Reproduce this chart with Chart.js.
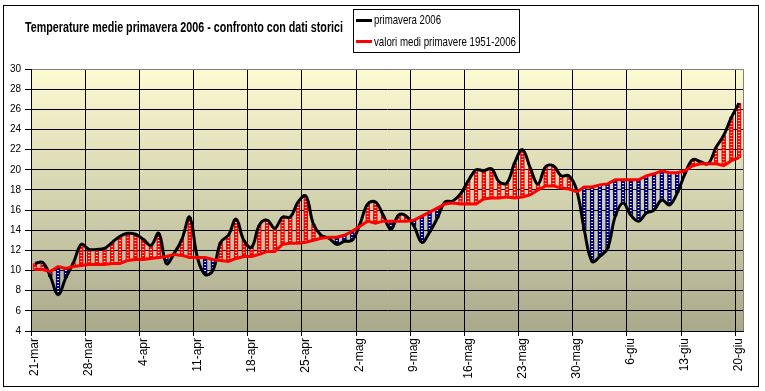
<!DOCTYPE html>
<html>
<head>
<meta charset="utf-8">
<script src="https://cdn.jsdelivr.net/npm/chart.js@4.4.1/dist/chart.umd.min.js"></script>
<style>
body { margin: 0; background: #fff; }
#wrap { position: relative; width: 765px; height: 391px; }
#title, .leg-text { position: absolute; white-space: nowrap; transform-origin: 0 0; }
#title { left: 25px; top: 20px; font: bold 14px "Liberation Sans", Arial, sans-serif; line-height: 15px; }
#legend { position: absolute; left: 353px; top: 9px; width: 165px; height: 42px; border: 1px solid #000; background: #fff; }
.leg-line { position: absolute; left: 2px; width: 16px; height: 3px; }
.leg-text { left: 20px; font: 13px "Liberation Sans", Arial, sans-serif; line-height: 13px; }
</style>
</head>
<body>
<div id="wrap">
  <canvas id="myChart" width="765" height="391"></canvas>
  <div id="title">Temperature medie primavera 2006 - confronto con dati storici</div>
  <div id="legend">
    <div class="leg-line" style="top:9px;background:#000"></div>
    <div class="leg-text" id="leg1" style="top:3px">primavera 2006</div>
    <div class="leg-line" style="top:30px;background:#f00"></div>
    <div class="leg-text" id="leg2" style="top:25px">valori medi primavere 1951-2006</div>
  </div>
</div>
<script>
// daily values, 21-mar ... 20-giu 2006
const temp2006 = [
	10.7, 10.8, 9.4, 7.6, 9.3, 10.8, 12.6, 12.1, 12.1, 12.2,
	12.8, 13.4, 13.7, 13.6, 13.1, 12.5, 13.7, 10.7, 11.7, 13.1,
	15.3, 11.3, 9.6, 10.0, 12.8, 13.5, 15.1, 13.0, 12.3, 14.5,
	15.0, 14.2, 15.3, 15.3, 16.8, 17.4, 14.6, 13.5, 13.2, 12.6,
	12.9, 13.0, 14.6, 16.6, 16.8, 15.5, 14.1, 15.5, 15.4, 14.4,
	12.8, 13.8, 15.2, 16.8, 16.9, 17.6, 18.9, 20.0, 19.9, 20.1,
	18.8, 18.7, 20.7, 22.0, 20.2, 18.6, 20.3, 20.4, 19.4, 19.4,
	18.0, 14.0, 10.9, 11.4, 12.2, 15.4, 16.7, 15.5, 14.9, 15.7,
	16.0, 17.0, 16.5, 17.7, 19.6, 21.0, 20.8, 20.6, 22.2, 23.4,
	25.2, 26.6
];
const tempMean = [
	10.1, 10.1, 9.9, 10.4, 10.2, 10.4, 10.5, 10.6, 10.6, 10.6,
	10.7, 10.7, 11.0, 11.1, 11.1, 11.2, 11.3, 11.4, 11.6, 11.5,
	11.3, 11.3, 11.3, 11.1, 11.0, 10.9, 11.2, 11.4, 11.4, 11.6,
	11.9, 11.9, 12.6, 12.7, 12.7, 12.8, 13.0, 13.2, 13.3, 13.3,
	13.5, 13.9, 14.4, 14.9, 14.7, 14.9, 14.9, 14.9, 14.9, 15.0,
	15.4, 15.8, 16.2, 16.6, 16.7, 16.6, 16.6, 16.6, 17.1, 17.2,
	17.2, 17.3, 17.2, 17.3, 17.5, 18.0, 18.4, 18.4, 18.2, 18.1,
	17.8, 18.3, 18.3, 18.5, 18.6, 19.0, 19.0, 19.0, 19.0, 19.4,
	19.6, 19.9, 19.7, 19.7, 19.9, 20.4, 20.6, 20.6, 20.6, 20.4,
	20.9, 21.2
];
const monthNames = ['gen', 'feb', 'mar', 'apr', 'mag', 'giu', 'lug', 'ago', 'set', 'ott', 'nov', 'dic'];
const yMin = 4, yMax = 30, yStep = 2;

// category labels: one per day
const days = [];
for (let i = 0; i < temp2006.length; i++) {
	const d = new Date(2006, 2, 21 + i);
	days.push(d.getDate() + '-' + monthNames[d.getMonth()]);
}

// fit html texts to the squeezed width of the original
function fitWidth(id, w) {
	const el = document.getElementById(id);
	const r = el.getBoundingClientRect().width;
	el.style.transform = 'scaleX(' + (w / r) + ')';
}
fitWidth('title', 318);
fitWidth('leg1', 67);
fitWidth('leg2', 142);

// dotted fill for the up/down bars
function dotted(color) {
	const c = document.createElement('canvas');
	c.width = 1; c.height = 3;
	const g = c.getContext('2d');
	g.fillStyle = color; g.fillRect(0, 0, 1, 3);
	g.fillStyle = '#fff'; g.fillRect(0, 0, 1, 1);
	return g.createPattern(c, 'repeat');
}
const upFill = dotted('#ff0000');
const downFill = dotted('#000080');

const plotFrame = {
	id: 'plotFrame',
	beforeDraw(chart) {
		const {ctx, chartArea: a} = chart;
		ctx.save();
		ctx.fillStyle = '#fff';
		ctx.fillRect(0, 0, chart.width, chart.height);
		const g = ctx.createLinearGradient(0, a.top, 0, a.bottom);
		g.addColorStop(0, '#fcfbd2');
		g.addColorStop(1, '#a9a98b');
		ctx.fillStyle = g;
		ctx.fillRect(a.left, a.top, a.right - a.left, a.bottom - a.top);
		ctx.restore();
	},
	afterDraw(chart) {
		const {ctx, chartArea: a} = chart;
		ctx.save();
		ctx.lineWidth = 1;
		ctx.strokeStyle = '#808080';
		ctx.beginPath();
		ctx.moveTo(a.left + 1, a.top + 0.5);
		ctx.lineTo(a.right + 0.5, a.top + 0.5);
		ctx.lineTo(a.right + 0.5, a.bottom);
		ctx.stroke();
		ctx.strokeStyle = '#000';
		ctx.strokeRect(3.5, 5.5, 755, 381);
		ctx.restore();
	}
};

const config = {
	type: 'bar',
	data: {
		labels: days,
		datasets: [{
			type: 'line',
			label: 'valori medi primavere 1951-2006',
			data: tempMean,
			borderColor: '#ff0000',
			borderWidth: 3,
			pointRadius: 0,
			tension: 0,
			order: 1
		}, {
			type: 'line',
			label: 'primavera 2006',
			data: temp2006,
			borderColor: '#000000',
			borderWidth: 3,
			pointRadius: 0,
			tension: 0.4,
			order: 2
		}, {
			type: 'bar',
			label: 'scarto',
			data: temp2006.map((v, i) => [tempMean[i], v]),
			backgroundColor: temp2006.map((v, i) => v >= tempMean[i] ? upFill : downFill),
			borderColor: temp2006.map((v, i) => v >= tempMean[i] ? '#ff0000' : '#000080'),
			borderWidth: 1.5,
			borderSkipped: false,
			barThickness: 4,
			order: 3
		}]
	},
	options: {
		responsive: false,
		animation: false,
		layout: { padding: { top: 69, right: 22, left: 0, bottom: 0 } },
		plugins: {
			legend: { display: false },
			tooltip: { enabled: false }
		},
		scales: {
			x: {
				offset: true,
				grid: {
					offset: true,
					color: ctx => ctx.index % 7 === 0 ? '#000' : 'rgba(0,0,0,0)',
					tickLength: 5
				},
				border: { color: '#000' },
				ticks: {
					autoSkip: false,
					minRotation: 90,
					maxRotation: 90,
					padding: 2,
					color: '#000',
					font: { family: 'Liberation Sans', size: 12 },
					callback: (v, i) => i % 7 === 0 ? days[i] : ''
				},
				afterFit: s => { s.height = 60; }
			},
			y: {
				min: yMin,
				max: yMax,
				grid: { color: '#000', tickLength: 6 },
				border: { color: '#000' },
				ticks: {
					stepSize: yStep,
					padding: 4,
					color: '#000',
					font: { family: 'Liberation Sans', size: 10 }
				},
				afterFit: s => { s.width = 31; }
			}
		}
	},
	plugins: [plotFrame]
};

const myChart = new Chart(document.getElementById('myChart'), config);
</script>
</body>
</html>
